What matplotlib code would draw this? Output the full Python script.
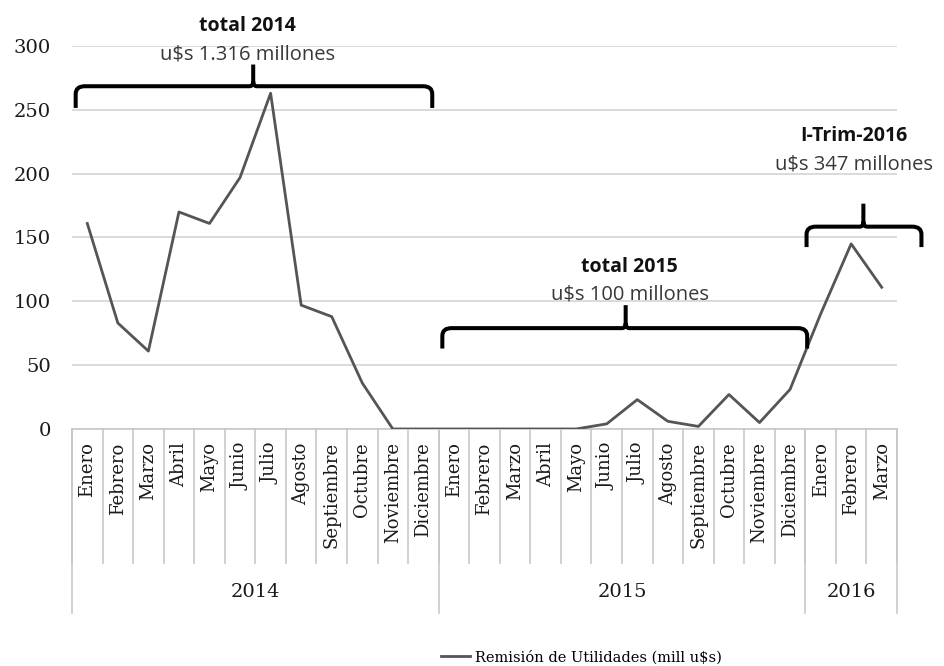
import numpy as np
import matplotlib.pyplot as plt
from matplotlib.path import Path
from matplotlib.patches import PathPatch
import matplotlib.transforms as mtransforms

# remision de utilidades, millones de u$s
meses = ['Enero', 'Febrero', 'Marzo', 'Abril', 'Mayo', 'Junio', 'Julio',
         'Agosto', 'Septiembre', 'Octubre', 'Noviembre', 'Diciembre']
anios = ['2014', '2015', '2016']
valores_2014 = [161, 83, 61, 170, 161, 197, 263, 97, 88, 36, 0, 0]
valores_2015 = [0, 0, 0, 0, 0, 4, 23, 6, 2, 27, 5, 31]
valores_2016 = [90, 145, 111]

serie = valores_2014 + valores_2015 + valores_2016
etiquetas = meses + meses + meses[:3]
n_anio = [len(valores_2014), len(valores_2015), len(valores_2016)]

SERIF = 'DejaVu Serif'
SANS = 'Open Sans'
GRIS = '#c8c8c8'


def llave(ax, x0, x1, xm, y, h_end, h_tip, rx=0.3, ry=6):
    # llave horizontal con la punta hacia arriba
    rc, yc = 0.12, 4
    verts = [(x0, y - h_end), (x0, y - ry), (x0, y), (x0 + rx, y),
             (xm - rc, y), (xm, y), (xm, y + yc), (xm, y + h_tip),
             (xm, y + yc), (xm, y), (xm + rc, y),
             (x1 - rx, y), (x1, y), (x1, y - ry), (x1, y - h_end)]
    codes = [Path.MOVETO, Path.LINETO, Path.CURVE3, Path.CURVE3,
             Path.LINETO, Path.CURVE3, Path.CURVE3, Path.LINETO,
             Path.MOVETO, Path.CURVE3, Path.CURVE3,
             Path.LINETO, Path.CURVE3, Path.CURVE3, Path.LINETO]
    p = PathPatch(Path(verts, codes), facecolor='none', edgecolor='black',
                  lw=2.9, capstyle='butt', joinstyle='round', clip_on=False,
                  zorder=5)
    ax.add_patch(p)


fig = plt.figure(figsize=(9.45, 6.66), dpi=100)
ax = fig.add_axes([0.0762, 0.3559, 0.8730, 0.5750])

x = np.arange(len(serie))
ax.plot(x, serie, color='#555555', lw=2.0, label='Remisión de Utilidades (mill u$s)',
        zorder=3)

ax.set_xlim(-0.5, len(serie) - 0.5)
ax.set_ylim(0, 300)
ax.set_yticks(range(0, 301, 50))
ax.yaxis.grid(True, color='#d4d4d4', lw=1.2)
ax.set_axisbelow(True)
for s in ['left', 'right', 'top']:
    ax.spines[s].set_visible(False)
ax.spines['bottom'].set_color(GRIS)
ax.spines['bottom'].set_linewidth(1.2)
ax.tick_params(axis='y', length=0, pad=15, labelsize=14, labelcolor='#1a1a1a')
for t in ax.get_yticklabels():
    t.set_family(SERIF)
ax.set_xticks([])

# categorias: meses y anios debajo del eje
trans = mtransforms.blended_transform_factory(ax.transData, ax.transAxes)
for i, et in enumerate(etiquetas):
    ax.text(i, -0.035, et, rotation=90, ha='center', va='top', transform=trans,
            family=SERIF, fontsize=13, color='#1a1a1a')

for b in np.arange(len(serie) + 1) - 0.5:
    ax.plot([b, b], [0, -0.35], transform=trans, color=GRIS, lw=1.2,
            clip_on=False)

bordes = np.concatenate([[0], np.cumsum(n_anio)]) - 0.5
for b in bordes:
    ax.plot([b, b], [0, -0.48], transform=trans, color=GRIS, lw=1.2,
            clip_on=False)
for k, a in enumerate(anios):
    ax.text((bordes[k] + bordes[k + 1]) / 2, -0.426, a, ha='center', va='center',
            transform=trans, family=SERIF, fontsize=14, color='#1a1a1a')

# llaves con los totales
llave(ax, -0.38, 11.29, 5.43, 268.5, 17, 17)
llave(ax, 11.62, 23.56, 17.62, 79, 16, 18)
llave(ax, 23.54, 27.30, 25.40, 158.5, 16, 18)

notas = [(5.25, 316, 293.5, 'total 2014', 'u$s 1.316 millones'),
         (17.75, 127, 105, 'total 2015', 'u$s 100 millones'),
         (25.1, 229.5, 207.5, 'I-Trim-2016', 'u$s 347 millones')]
for xn, y1, y2, titulo, monto in notas:
    ax.text(xn, y1, titulo, ha='center', va='center', family=SANS,
            fontsize=14, fontweight='bold', color='#111111', clip_on=False)
    ax.text(xn, y2, monto, ha='center', va='center', family=SANS,
            fontsize=14.5, color='#383838', clip_on=False)

fig.legend(loc='center', bbox_to_anchor=(0.615, 0.013), frameon=False,
           prop={'family': SERIF, 'size': 10.5}, handlelength=2.0,
           handletextpad=0.3)

fig.savefig('out.png', dpi=100, facecolor='white')
